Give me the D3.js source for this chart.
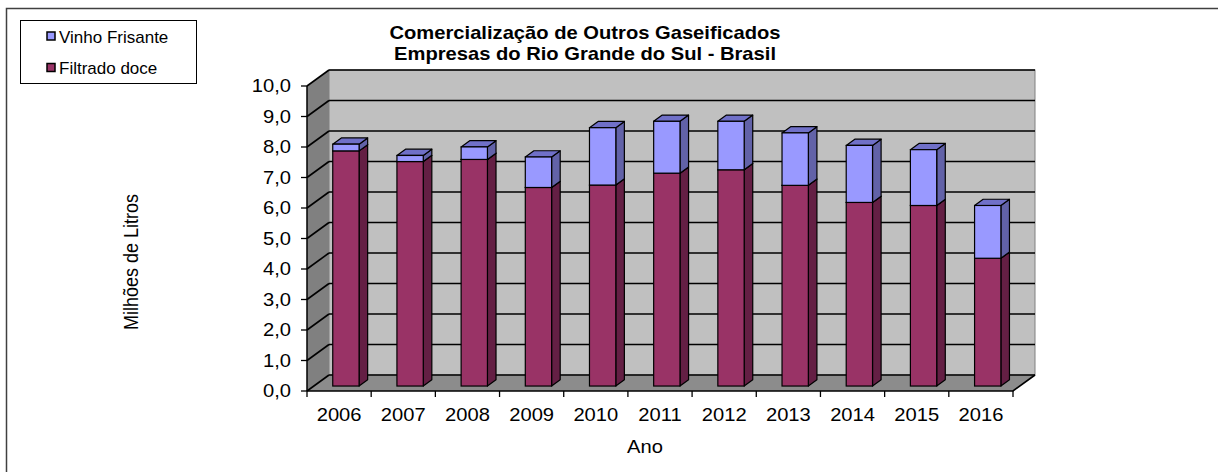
<!DOCTYPE html>
<html>
<head>
<meta charset="utf-8">
<script src="https://cdn.jsdelivr.net/npm/d3@7"></script>
<style>
  html, body { margin: 0; padding: 0; background: #fff; }
  svg { display: block; font-family: Arial, "Liberation Sans", sans-serif; }
</style>
</head>
<body>
<svg id="chart" width="1218" height="472"></svg>
<script>
// ---- data ----
const years = ["2006","2007","2008","2009","2010","2011","2012","2013","2014","2015","2016"];
const filtradoDoce = [7.71, 7.36, 7.43, 6.51, 6.59, 6.98, 7.09, 6.58, 6.02, 5.92, 4.19];
const vinhoFrisante = [0.22, 0.20, 0.41, 1.00, 1.88, 1.70, 1.59, 1.72, 1.87, 1.83, 1.73];
const yTicks = [0,1,2,3,4,5,6,7,8,9,10];
const seriesNames = ["Vinho Frisante", "Filtrado doce"];
const titleLines = ["Comercialização de Outros Gaseificados", "Empresas do Rio Grande do Sul - Brasil"];

// ---- layout ----
const svg = d3.select("#chart");
const X0 = 307, X1 = 1013, YB = 391, YT = 86;
const DX = 22, DY = -16;           // full depth offset
const F0 = 0.31, F1 = 0.70;        // bar depth fractions
const SX = 1.12;                   // horizontal text stretch

const x = d3.scaleBand().domain(years).range([X0, X1]).paddingInner(0.59).paddingOuter(0.295);
const y = d3.scaleLinear().domain([0, 10]).range([YB, YT]);
const fmt = v => d3.format(".1f")(v).replace(".", ",");

// outer frame
svg.append("rect").attr("x", 6.5).attr("y", 8.5).attr("width", 1400).attr("height", 600)
  .attr("fill", "none").attr("stroke", "#404040").attr("stroke-width", 1.5);

const g = svg.append("g");
// back wall
g.append("rect").attr("x", X0 + DX).attr("y", y(10) + DY).attr("width", X1 - X0)
  .attr("height", y(0) - y(10)).attr("fill", "#c0c0c0").attr("stroke", "#808080");
// left wall
g.append("polygon").attr("points", [[X0, y(0)], [X0 + DX, y(0) + DY], [X0 + DX, y(10) + DY], [X0, y(10)]].join(" "))
  .attr("fill", "#808080");
// floor
g.append("polygon").attr("points", [[X0, y(0)], [X1, y(0)], [X1 + DX, y(0) + DY], [X0 + DX, y(0) + DY]].join(" "))
  .attr("fill", "#8c8c8c");

// gridlines
yTicks.forEach(v => {
  g.append("line").attr("x1", X0 + DX).attr("x2", X1 + DX).attr("y1", y(v) + DY).attr("y2", y(v) + DY)
    .attr("stroke", "#000").attr("stroke-width", 1.6);
  g.append("line").attr("x1", X0).attr("x2", X0 + DX).attr("y1", y(v)).attr("y2", y(v) + DY)
    .attr("stroke", "#000").attr("stroke-width", 1.6);
});

// axes lines
g.append("line").attr("x1", X0).attr("x2", X0).attr("y1", y(0)).attr("y2", y(10)).attr("stroke", "#000").attr("stroke-width", 1.5);
g.append("polyline").attr("points", [[X0, y(0)], [X1, y(0)], [X1 + DX, y(0) + DY]].join(" "))
  .attr("fill", "none").attr("stroke", "#000").attr("stroke-width", 1.6);

// y ticks & labels
yTicks.forEach(v => {
  g.append("line").attr("x1", X0 - 6).attr("x2", X0).attr("y1", y(v)).attr("y2", y(v)).attr("stroke", "#000").attr("stroke-width", 1.3);
  g.append("text").attr("transform", `translate(291,${y(v)}) scale(${SX},1)`)
    .attr("dy", "0.35em").attr("text-anchor", "end").attr("font-size", 18).text(fmt(v));
});
// x ticks & labels
const step = x.step();
d3.range(years.length + 1).forEach(i => {
  const xx = X0 + i * step;
  g.append("line").attr("x1", xx).attr("x2", xx).attr("y1", y(0)).attr("y2", y(0) + 6).attr("stroke", "#000").attr("stroke-width", 1.3);
});
years.forEach(yr => {
  g.append("text").attr("transform", `translate(${x(yr) + x.bandwidth() / 2},421) scale(${SX},1)`)
    .attr("text-anchor", "middle").attr("font-size", 18).text(yr);
});

// bars
const stackData = years.map((yr, i) => ({ yr, f: filtradoDoce[i], v: vinhoFrisante[i] }));
const segs = [
  { key: "f", front: "#993366", side: "#641f44", top: "#7a2850", base: d => 0, val: d => d.f },
  { key: "v", front: "#9999ff", side: "#6262a8", top: "#7070c8", base: d => d.f, val: d => d.f + d.v }
];
const bw = x.bandwidth();
const ox0 = DX * F0, oy0 = DY * F0, dd = F1 - F0, ddx = DX * dd, ddy = DY * dd;
stackData.forEach(d => {
  segs.forEach(s => {
    const xl = x(d.yr) + ox0, xr = xl + bw;
    const yb = y(s.base(d)) + oy0, yt = y(s.val(d)) + oy0;
    g.append("polygon").attr("points", [[xr, yb], [xr + ddx, yb + ddy], [xr + ddx, yt + ddy], [xr, yt]].join(" "))
      .attr("fill", s.side).attr("stroke", "#000").attr("stroke-width", 1.2).attr("stroke-linejoin", "round");
    g.append("polygon").attr("points", [[xl, yt], [xr, yt], [xr + ddx, yt + ddy], [xl + ddx, yt + ddy]].join(" "))
      .attr("fill", s.top).attr("stroke", "#000").attr("stroke-width", 1.2).attr("stroke-linejoin", "round");
    g.append("rect").attr("x", xl).attr("y", yt).attr("width", bw).attr("height", yb - yt)
      .attr("fill", s.front).attr("stroke", "#000").attr("stroke-width", 1.2);
  });
});

// title
titleLines.forEach((t, i) => {
  svg.append("text").attr("transform", `translate(585,${39 + i * 20.5}) scale(${SX},1)`)
    .attr("text-anchor", "middle").attr("font-size", 18).attr("font-weight", "bold").text(t);
});

// axis titles
svg.append("text").attr("transform", `translate(138,262) rotate(-90) scale(1,${SX})`)
  .attr("text-anchor", "middle").attr("font-size", 18).text("Milhões de Litros");
svg.append("text").attr("transform", `translate(645,453) scale(${SX},1)`)
  .attr("text-anchor", "middle").attr("font-size", 18).text("Ano");

// legend
const lg = svg.append("g");
lg.append("rect").attr("x", 20.5).attr("y", 20.5).attr("width", 176).attr("height", 63)
  .attr("fill", "#fff").attr("stroke", "#000").attr("stroke-width", 1);
const legColors = ["#9999ff", "#993366"];
seriesNames.forEach((n, i) => {
  const yy = 32 + i * 31.5;
  lg.append("rect").attr("x", 47).attr("y", yy).attr("width", 8).attr("height", 8)
    .attr("fill", legColors[i]).attr("stroke", "#000").attr("stroke-width", 1.5);
  lg.append("text").attr("x", 59).attr("y", yy + 10.5).attr("font-size", 17).text(n);
});
</script>
</body>
</html>
